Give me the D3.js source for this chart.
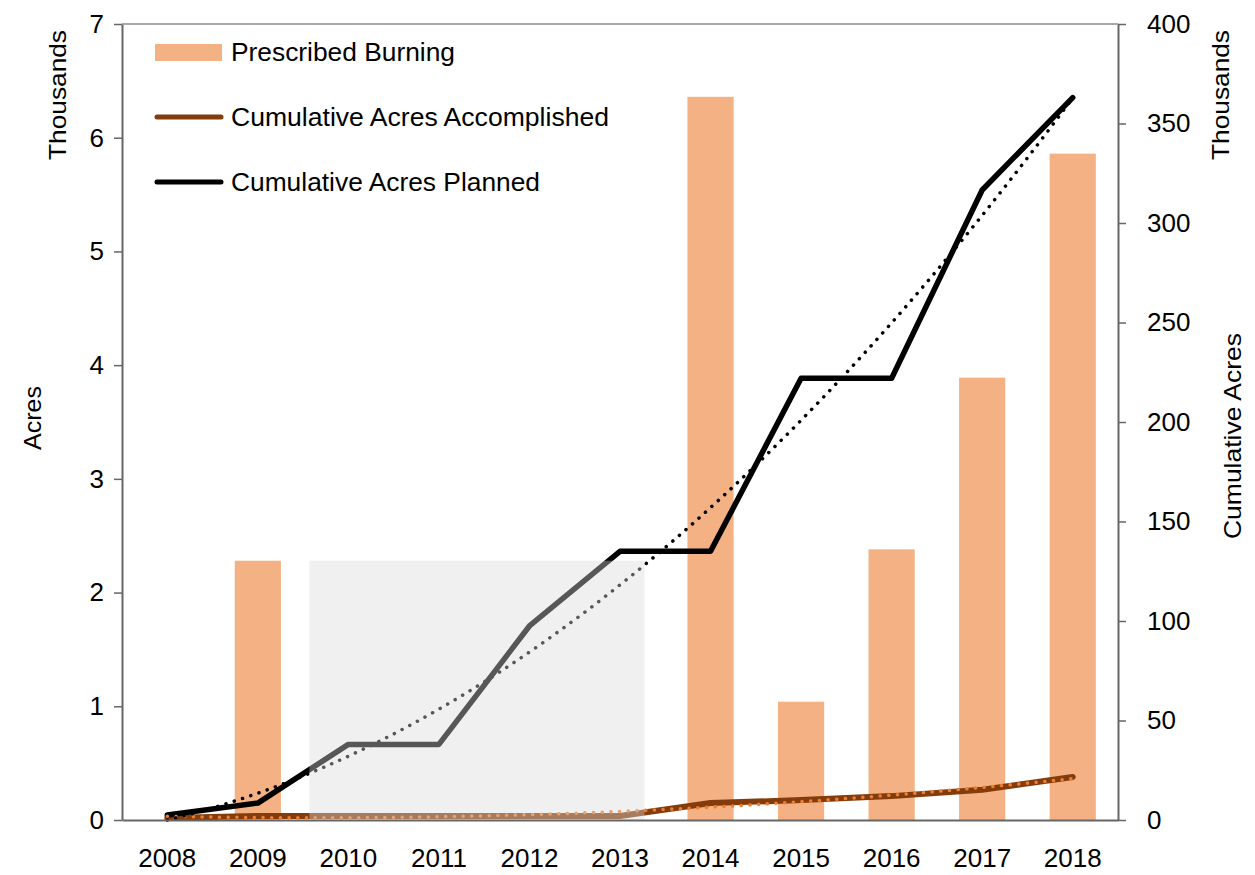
<!DOCTYPE html>
<html>
<head>
<meta charset="utf-8">
<script src="https://cdn.jsdelivr.net/npm/d3@7"></script>
<style>
  body { margin: 0; background: #fff; }
  text { font-family: "Liberation Sans", Arial, sans-serif; fill: #000; }
</style>
</head>
<body>
<div id="chart"></div>
<script>
// years on the x axis
var years = ["2008", "2009", "2010", "2011", "2012", "2013", "2014", "2015", "2016", "2017", "2018"];
// prescribed burning, thousands of acres (left axis)
var burning = [0, 2.28, 0, 0, 0, 0, 6.36, 1.04, 2.38, 3.89, 5.86];
// cumulative acres, thousands (right axis)
var accomplished = [1, 2, 2, 2, 2, 2, 8.5, 10, 12, 15.2, 21.6];
var planned = [2.5, 8.5, 38, 38, 97.5, 135, 135, 222, 222, 316.6, 363];
// tick labels
var leftTicks = [0, 1, 2, 3, 4, 5, 6, 7];
var rightTicks = [0, 50, 100, 150, 200, 250, 300, 350, 400];
// shaded block (in year index / left-axis units)
var shadeFrom = 1.57, shadeTo = 5.27, shadeTop = 2.28;

var width = 1255, height = 875;
var mLeft = 122, mRight = 1118, mTop = 24, mBottom = 820;

var svg = d3.select("#chart").append("svg")
    .attr("width", width)
    .attr("height", height);

var x = d3.scaleBand().domain(years).range([mLeft, mRight])
    .paddingInner(0.49).paddingOuter(0.245);
var yL = d3.scaleLinear().domain([0, 7]).range([mBottom, mTop]);
var yR = d3.scaleLinear().domain([0, 400]).range([mBottom, mTop]);
var cx = function(i) { return x(years[i]) + x.bandwidth() / 2; };
var xi = d3.scaleLinear().domain([0, 1]).range([cx(0), cx(1)]);

// bars
svg.append("g").selectAll("rect")
    .data(burning)
    .enter().append("rect")
    .attr("x", function(d, i) { return x(years[i]); })
    .attr("y", function(d) { return yL(d); })
    .attr("width", x.bandwidth())
    .attr("height", function(d) { return mBottom - yL(d); })
    .attr("fill", "#f4b183");

// polynomial (order 2) trend, like the spreadsheet one
function quadFit(ys) {
  var s = [0, 0, 0, 0, 0], t = [0, 0, 0];
  ys.forEach(function(v, i) {
    for (var k = 0; k < 5; k++) s[k] += Math.pow(i, k);
    for (var k = 0; k < 3; k++) t[k] += v * Math.pow(i, k);
  });
  var A = [[s[0], s[1], s[2], t[0]], [s[1], s[2], s[3], t[1]], [s[2], s[3], s[4], t[2]]];
  for (var c = 0; c < 3; c++) {
    for (var r = c + 1; r < 3; r++) {
      var f = A[r][c] / A[c][c];
      for (var k = c; k < 4; k++) A[r][k] -= f * A[c][k];
    }
  }
  var b = [0, 0, 0];
  for (var r = 2; r >= 0; r--) {
    var v = A[r][3];
    for (var k = r + 1; k < 3; k++) v -= A[r][k] * b[k];
    b[r] = v / A[r][r];
  }
  return function(i) { return b[0] + b[1] * i + b[2] * i * i; };
}

var line = d3.line()
    .x(function(d, i) { return cx(i); })
    .y(function(d) { return yR(d); });

svg.append("path")
    .datum(accomplished)
    .attr("d", line)
    .attr("fill", "none")
    .attr("stroke", "#843c0c")
    .attr("stroke-width", 6)
    .attr("stroke-linejoin", "round")
    .attr("stroke-linecap", "round");

svg.append("path")
    .datum(planned)
    .attr("d", line)
    .attr("fill", "none")
    .attr("stroke", "#000")
    .attr("stroke-width", 5.5)
    .attr("stroke-linejoin", "round")
    .attr("stroke-linecap", "round");

function trend(ys, color) {
  var f = quadFit(ys);
  var pts = d3.range(0, ys.length - 1 + 0.001, 0.1);
  svg.append("path")
      .datum(pts)
      .attr("d", d3.line()
          .x(function(i) { return xi(i); })
          .y(function(i) { return yR(f(i)); }))
      .attr("fill", "none")
      .attr("stroke", color)
      .attr("stroke-width", 3.5)
      .attr("stroke-linecap", "round")
      .attr("stroke-dasharray", "0.1 8.6");
}
trend(accomplished, "#ed7d31");
trend(planned, "#000");

// grey shaded block over the lines
svg.append("rect")
    .attr("x", xi(shadeFrom))
    .attr("y", yL(shadeTop))
    .attr("width", xi(shadeTo) - xi(shadeFrom))
    .attr("height", mBottom - yL(shadeTop))
    .attr("fill", "rgb(217,217,217)")
    .attr("fill-opacity", 0.4);

// axes
var axisColor = "#666";
var gL = svg.append("g")
    .attr("transform", "translate(" + mLeft + ",0)")
    .call(d3.axisLeft(yL).tickValues(leftTicks).tickFormat(d3.format("d"))
        .tickSize(8).tickPadding(10).tickSizeOuter(0));
var gR = svg.append("g")
    .attr("transform", "translate(" + mRight + ",0)")
    .call(d3.axisRight(yR).tickValues(rightTicks).tickFormat(d3.format("d"))
        .tickSize(8).tickPadding(21).tickSizeOuter(0));
var gB = svg.append("g")
    .attr("transform", "translate(0," + mBottom + ")")
    .call(d3.axisBottom(x).tickSize(0).tickPadding(26));

[gL, gR, gB].forEach(function(g) {
  g.select(".domain").attr("stroke", axisColor).attr("stroke-width", 2);
  g.selectAll(".tick line").attr("stroke", axisColor).attr("stroke-width", 1.5);
  g.selectAll(".tick text")
      .style("font-family", "'Liberation Sans', Arial, sans-serif")
      .style("font-size", "26px")
      .attr("fill", "#000");
});
gB.selectAll(".tick text").attr("dy", "0.35em").attr("y", 38);

svg.append("line")
    .attr("x1", mLeft).attr("x2", mRight)
    .attr("y1", mTop).attr("y2", mTop)
    .attr("stroke", "#8c8c8c")
    .attr("stroke-width", 1.5);

// axis titles
function vtitle(txt, tx, ty, len) {
  svg.append("text")
      .attr("transform", "translate(" + tx + "," + ty + ") rotate(-90)")
      .attr("text-anchor", "middle")
      .attr("textLength", len)
      .attr("lengthAdjust", "spacingAndGlyphs")
      .style("font-size", "24px")
      .text(txt);
}
vtitle("Thousands", 66, 95, 130);
vtitle("Acres", 41, 418, 64);
vtitle("Thousands", 1229, 95, 130);
vtitle("Cumulative Acres", 1241, 436, 206);

// legend
var legend = svg.append("g");
legend.append("rect")
    .attr("x", 155).attr("y", 44)
    .attr("width", 67).attr("height", 17)
    .attr("fill", "#f4b183");
legend.append("line")
    .attr("x1", 157).attr("x2", 221).attr("y1", 117).attr("y2", 117)
    .attr("stroke", "#843c0c").attr("stroke-width", 5).attr("stroke-linecap", "round");
legend.append("line")
    .attr("x1", 157).attr("x2", 221).attr("y1", 182).attr("y2", 182)
    .attr("stroke", "#000").attr("stroke-width", 5).attr("stroke-linecap", "round");
var legendText = ["Prescribed Burning", "Cumulative Acres Accomplished", "Cumulative Acres Planned"];
var legendLen = [224, 378, 309];
legend.selectAll("text")
    .data(legendText)
    .enter().append("text")
    .attr("x", 231)
    .attr("y", function(d, i) { return 52 + i * 65; })
    .attr("dy", "0.35em")
    .attr("textLength", function(d, i) { return legendLen[i]; })
    .attr("lengthAdjust", "spacingAndGlyphs")
    .style("font-size", "25px")
    .text(function(d) { return d; });
</script>
</body>
</html>
